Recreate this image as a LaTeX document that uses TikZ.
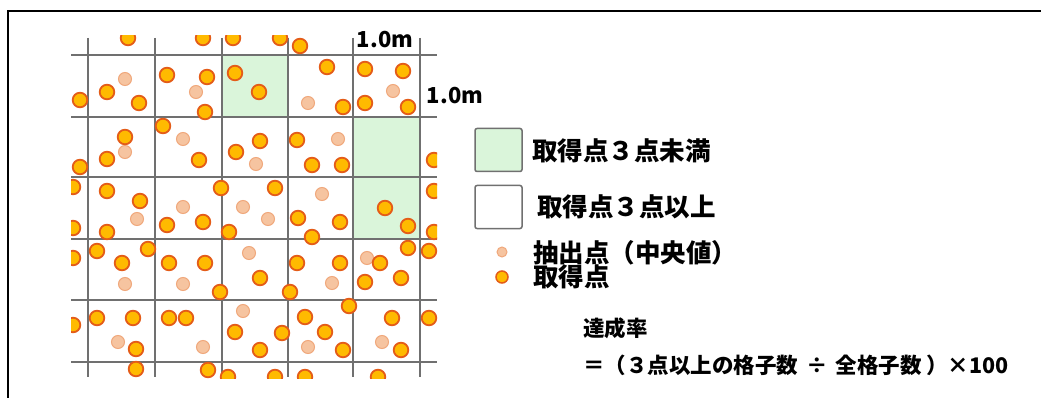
\documentclass[tikz,border=0pt]{standalone}
\usepackage{fontspec}
\newfontfamily\cjk{Noto Sans CJK JP}
\definecolor{gridgray}{RGB}{112,112,112}
\definecolor{cellgreen}{RGB}{218,245,218}
\definecolor{dotfill}{RGB}{255,186,0}
\definecolor{dotedge}{RGB}{228,92,24}
\definecolor{palefill}{RGB}{246,196,160}
\definecolor{paleedge}{RGB}{240,168,124}
\begin{document}
\begin{tikzpicture}[x=1pt,y=-1pt,
  gridline/.style={draw=gridgray,line width=2.4pt},
  greencell/.style={fill=cellgreen},
  odot/.style={fill=dotfill,draw=dotedge,line width=1.8pt},
  pdot/.style={fill=palefill,draw=paleedge,line width=1pt},
  legbox/.style={draw=gridgray,line width=1.5pt,rounded corners=2pt,minimum width=47pt,minimum height=43pt,inner sep=0pt},
  legtext/.style={font=\cjk\bfseries\fontsize{25.5}{30}\selectfont,anchor=west,inner sep=0pt},
  formtext/.style={font=\cjk\bfseries\fontsize{21.5}{25}\selectfont,anchor=west,inner sep=0pt},
  dimtext/.style={font=\cjk\bfseries\fontsize{22}{26}\selectfont,inner sep=0pt}]
\useasboundingbox (0,0) rectangle (1041,398);
\fill[white] (0,0) rectangle (1041,398);
% frame
\draw[line width=2pt] (8,398) -- (8,11) -- (1041,11);
% green cells
\fill[greencell] (222,55) rectangle (288,117);
\fill[greencell] (353,117) rectangle (420,239);
% grid
\foreach \x in {88,155,222,288,353,420} \draw[gridline] (\x,38) -- (\x,377);
\foreach \y in {55,117,177,239,300,362} \draw[gridline] (71,\y) -- (437,\y);
% dots
\begin{scope}
\clip (71,36) rectangle (437,378);
\foreach \p in {(125,79),(196,92),(183,139),(125,152),(256,164),(308,103),(393,91),(338,139),(322,194),
 (137,219),(183,207),(243,207),(268,219),(249,253),(125,284),(183,284),(243,311),(118,342),(203,347),
 (367,258),(332,283),(308,347),(382,342)}
  \draw[pdot] \p circle (6.5);
\foreach \p in {(128,38),(203,38),(233,38),(280,38),(300,46),
 (80,100),(107,92),(139,103),(167,75),(207,77),(205,112),(235,73),(259,92),(327,67),(365,69),(403,71),(343,107),(365,103),(408,107),
 (163,126),(125,137),(107,159),(80,167),(199,160),(236,152),(260,141),(297,140),(312,165),(342,165),(434,160),
 (73,187),(107,191),(221,188),(275,188),(140,201),(434,191),
 (73,228),(107,232),(167,225),(203,222),(229,232),(298,218),(340,222),(312,237),(385,208),(408,226),(434,232),
 (73,258),(97,251),(122,263),(148,249),(169,263),(205,263),(260,278),(220,292),(290,292),(297,263),(340,263),(380,263),(408,248),(429,251),(365,282),(401,278),
 (73,325),(97,318),(133,318),(169,318),(186,318),(136,349),(235,332),(282,333),(260,350),(349,306),(305,317),(325,332),(343,350),(392,318),(401,350),(429,318),
 (136,369),(208,370),(228,377),(275,377),(305,377),(378,377)}
  \draw[odot] \p circle (7.3);
\end{scope}
% dimension labels
\node[dimtext] (dimtop) at (385,40) {1.0m};
\node[dimtext] (dimright) at (455,96) {1.0m};
% legend
\node[legbox,fill=cellgreen] (boxgreen) at (498.5,150) {};
\node[legbox,fill=white] (boxwhite) at (498.5,207) {};
\node[legtext] (tless) at (532,151) {取得点３点未満};
\node[legtext] (tmore) at (537,207) {取得点３点以上};
\draw[pdot] (502,252) circle (5) coordinate (lpale);
\draw[odot,line width=1.5pt] (502,277) circle (6) coordinate (lorange);
\node[legtext] (tpale) at (533,253) {抽出点（中央値）};
\node[legtext] (torange) at (533,277) {取得点};
% formula
\node[formtext] (rate) at (583,328) {達成率};
\node[formtext] (formula) at (583,365) {＝（３点以上の格子数\hspace{3pt} ÷ \hspace{3pt}全格子数 ）×100};
\end{tikzpicture}
\end{document}
